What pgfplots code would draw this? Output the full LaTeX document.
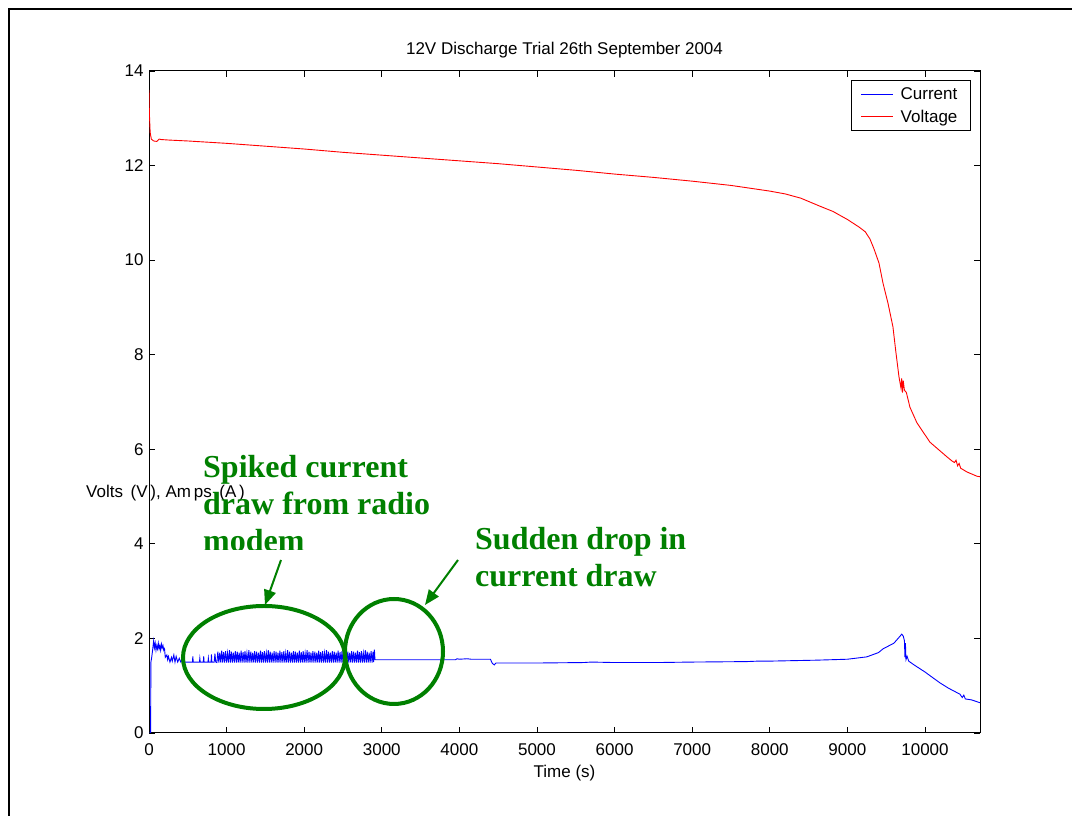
\documentclass[border=0pt]{standalone}
\usepackage{pgfplots}
\pgfplotsset{compat=1.18}
\usepackage{fontspec}
\setmainfont{Liberation Sans}
\newfontfamily\timesfont{Liberation Serif}
\usetikzlibrary{arrows.meta}
\definecolor{mblue}{RGB}{0,0,255}
\definecolor{mred}{RGB}{255,0,0}
\definecolor{agreen}{RGB}{0,128,0}
\newcommand{\lblfont}{\fontsize{17}{20}\selectfont}
\newcommand{\annfont}{\timesfont\bfseries\fontsize{32}{37}\selectfont}
\begin{document}
\begin{tikzpicture}[x=1pt,y=1pt]
\useasboundingbox (0,0) rectangle (1072,816);
% outer frame (left and top edges visible)
\draw[line width=2.7pt] (9,-5) -- (9,807) -- (1080,807);
\begin{axis}[
  at={(149pt,83pt)}, anchor=south west,
  scale only axis, width=831pt, height=662pt,
  xmin=0, xmax=10709, ymin=0, ymax=14,
  xtick={0,1000,...,10000}, ytick={0,2,...,14},
  scaled x ticks=false,
  xticklabel style={yshift=-7pt, /pgf/number format/.cd, 1000 sep={}, assume math mode=true},
  yticklabel style={xshift=-2pt, /pgf/number format/assume math mode=true},
  ticklabel style={font=\lblfont},
  tick align=inside, major tick length=6pt,
  tick style={black, line width=0.9pt},
  axis line style={line width=1pt},
  axis lines=box,
  xtick pos=both, ytick pos=both,
  legend style={at={(rel axis cs:0.989,0.986)}, anchor=north east, draw=black,
    line width=0.9pt, font=\lblfont, inner xsep=9pt, inner ysep=5pt, row sep=5pt,
    nodes={inner xsep=4pt, inner ysep=2pt},
    /tikz/every odd column/.append style={column sep=3pt}},
  legend cell align=left,
  legend image code/.code={\draw[#1, line width=1pt] (0pt,0pt) -- (32pt,0pt);},
  clip mode=individual,
]
\addplot[color=mblue, line width=0.9pt] coordinates {
(0,0) (20,0) (25,1.5) (35,1.6) (50,1.8) (60,1.95) (70,1.8) (80,1.9) (90,1.75) (100,1.85)
(110,1.78) (120,1.9) (130,1.78) (140,1.85) (150,1.75) (160,1.88) (170,1.8) (180,1.85) (190,1.75) (200,1.78)
(210,1.6) (230,1.65) (240,1.55) (250,1.62) (270,1.5) (290,1.6) (300,1.52) (320,1.65) (335,1.5) (350,1.62)
(370,1.5) (390,1.58) (410,1.5) (430,1.55) (460,1.5) (560,1.5) (565,1.62) (570,1.5) (650,1.5) (655,1.58) (660,1.5)
(700,1.5) (705,1.62) (710,1.5) (760,1.5) (765,1.58) (770,1.5) (800,1.5) (805,1.66) (810,1.5) (840,1.5) (850,1.68) (860,1.5)
(875,1.49) (887,1.72) (900,1.49) (912,1.70) (925,1.49) (937,1.74) (950,1.49) (962,1.71) (975,1.49) (987,1.73)
(1000,1.49) (1012,1.69) (1025,1.49) (1037,1.75) (1050,1.49) (1062,1.72) (1075,1.49) (1087,1.70) (1100,1.49) (1112,1.73)
(1125,1.49) (1137,1.72) (1150,1.49) (1162,1.70) (1175,1.49) (1187,1.74) (1200,1.49) (1212,1.71) (1225,1.49) (1237,1.73)
(1250,1.49) (1262,1.69) (1275,1.49) (1287,1.75) (1300,1.49) (1312,1.72) (1325,1.49) (1337,1.70) (1350,1.49) (1362,1.73)
(1375,1.49) (1387,1.72) (1400,1.49) (1412,1.70) (1425,1.49) (1437,1.74) (1450,1.49) (1462,1.71) (1475,1.49) (1487,1.73)
(1500,1.49) (1512,1.69) (1525,1.49) (1537,1.75) (1550,1.49) (1562,1.72) (1575,1.49) (1587,1.70) (1600,1.49) (1612,1.73)
(1625,1.49) (1637,1.72) (1650,1.49) (1662,1.70) (1675,1.49) (1687,1.74) (1700,1.49) (1712,1.71) (1725,1.49) (1737,1.73)
(1750,1.49) (1762,1.69) (1775,1.49) (1787,1.75) (1800,1.49) (1812,1.72) (1825,1.49) (1837,1.70) (1850,1.49) (1862,1.73)
(1875,1.49) (1887,1.72) (1900,1.49) (1912,1.70) (1925,1.49) (1937,1.74) (1950,1.49) (1962,1.71) (1975,1.49) (1987,1.73)
(2000,1.49) (2012,1.69) (2025,1.49) (2037,1.75) (2050,1.49) (2062,1.72) (2075,1.49) (2087,1.70) (2100,1.49) (2112,1.73)
(2125,1.49) (2137,1.72) (2150,1.49) (2162,1.70) (2175,1.49) (2187,1.74) (2200,1.49) (2212,1.71) (2225,1.49) (2237,1.73)
(2250,1.49) (2262,1.69) (2275,1.49) (2287,1.75) (2300,1.49) (2312,1.72) (2325,1.49) (2337,1.70) (2350,1.49) (2362,1.73)
(2375,1.49) (2387,1.72) (2400,1.49) (2412,1.70) (2425,1.49) (2437,1.74) (2450,1.49) (2462,1.71) (2475,1.49) (2487,1.73)
(2500,1.49) (2512,1.69) (2525,1.49) (2537,1.75) (2550,1.49) (2562,1.72) (2575,1.49) (2587,1.70) (2600,1.49) (2612,1.73)
(2625,1.49) (2637,1.72) (2650,1.49) (2662,1.70) (2675,1.49) (2687,1.74) (2700,1.49) (2712,1.71) (2725,1.49) (2737,1.73)
(2750,1.49) (2762,1.69) (2775,1.49) (2787,1.75) (2800,1.49) (2812,1.72) (2825,1.49) (2837,1.70) (2850,1.49) (2862,1.73)
(2875,1.49) (2887,1.72) (2895,1.5) (2905,1.76) (2912,1.55)
(3000,1.55) (3500,1.55) (3950,1.55) (3970,1.57) (4000,1.56) (4100,1.57) (4150,1.56) (4400,1.56) (4425,1.47) (4450,1.44) (4470,1.48)
(5000,1.48) (5600,1.49) (5700,1.5) (6000,1.49) (6545,1.49) (7000,1.5) (7700,1.51) (7850,1.52) (8000,1.52)
(8600,1.54) (9000,1.56) (9250,1.61) (9400,1.7) (9460,1.78) (9600,1.9) (9680,2.05) (9700,2.09) (9720,2.05) (9735,1.95)
(9742,1.6) (9748,1.9) (9755,1.55) (9770,1.62) (9790,1.52) (9850,1.45) (10000,1.29) (10100,1.17) (10193,1.06)
(10300,0.95) (10451,0.82) (10480,0.75) (10500,0.8) (10520,0.72) (10600,0.7) (10709,0.64)
};
\addlegendentry{Current}
\addplot[color=mred, line width=0.9pt] coordinates {
(0,13.6) (5,13.1) (15,12.7) (30,12.56) (60,12.52) (100,12.51) (130,12.56) (160,12.55) (250,12.54)
(500,12.52) (1000,12.47) (1500,12.41) (2000,12.35) (2500,12.28) (3000,12.22) (3500,12.16) (4000,12.10)
(4500,12.04) (5000,11.97) (5500,11.9) (6000,11.82) (6500,11.75) (7000,11.67) (7500,11.58) (8000,11.46)
(8200,11.40) (8400,11.31) (8647,11.14) (8814,11.03) (9000,10.86) (9150,10.70) (9230,10.60) (9290,10.45) (9340,10.25) (9407,9.94) (9458,9.52)
(9523,9.09) (9587,8.59) (9626,8.04) (9665,7.53) (9690,7.3) (9700,7.5) (9710,7.2) (9720,7.45) (9735,7.25)
(9760,7.2) (9806,6.89) (9896,6.56) (10064,6.15) (10283,5.84) (10350,5.75) (10380,5.72) (10400,5.77)
(10420,5.65) (10440,5.7) (10460,5.6) (10541,5.52) (10670,5.43) (10709,5.42)
};
\addlegendentry{Voltage}
\node[font=\lblfont] at (axis description cs:0.5,1.031) {12V Discharge Trial 26th September 2004};
\node[font=\lblfont] at (axis description cs:0.5,-0.0604) {Time (s)};
\end{axis}
% y label (horizontal)
\node[font=\lblfont, anchor=west, inner sep=0pt] at (86,323) {Volts \,(V\,), Am\,ps \,(A\,)};
% annotations
\node[font=\annfont, text=agreen, anchor=base west, inner sep=0pt] at (203,338) {Spiked current};
\node[font=\annfont, text=agreen, anchor=base west, inner sep=0pt] at (203,301) {draw from radio};
\begin{scope}
\clip (0,266) rectangle (1072,816);
\node[font=\annfont, text=agreen, anchor=base west, inner sep=0pt] at (203,264) {modem};
\end{scope}
\node[font=\annfont, text=agreen, anchor=base west, inner sep=0pt] at (475,266) {Sudden drop in};
\node[font=\annfont, text=agreen, anchor=base west, inner sep=0pt] at (475,229) {current draw};
\draw[agreen, line width=4pt] (264,158.5) ellipse [x radius=81, y radius=51.5];
\draw[agreen, line width=4pt] (394,164.5) ellipse [x radius=49, y radius=52.5];
\draw[agreen, line width=2pt, -{Triangle[length=15pt,width=12pt]}] (281,256) -- (265,211);
\draw[agreen, line width=2pt, -{Triangle[length=15pt,width=12pt]}] (458,256) -- (425,211);
\end{tikzpicture}
\end{document}
